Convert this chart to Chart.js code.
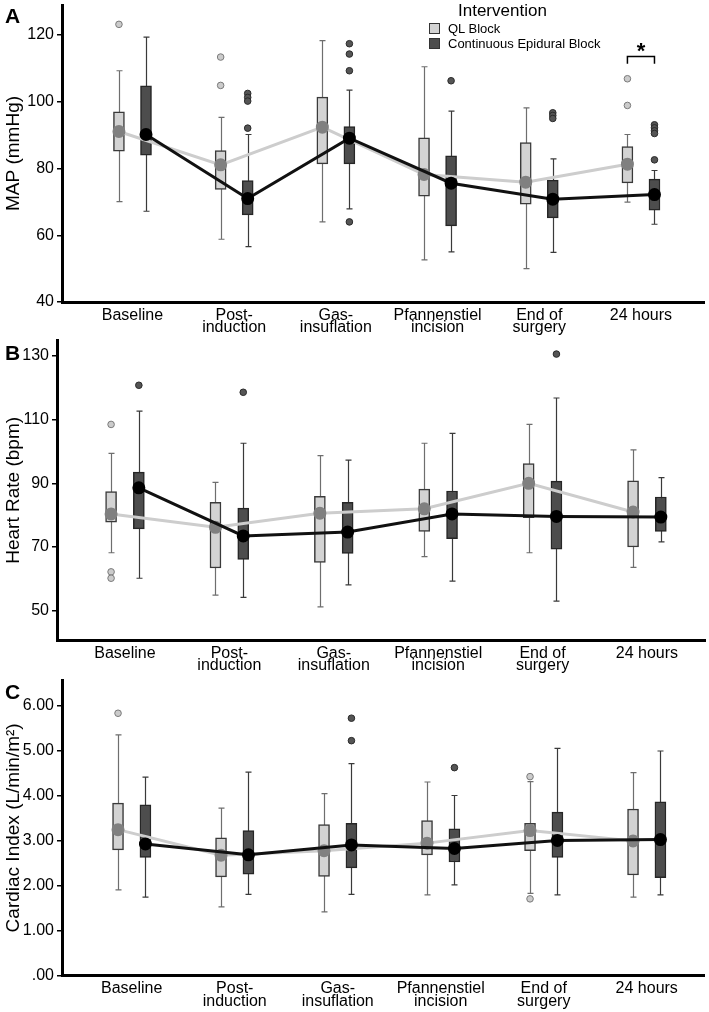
<!DOCTYPE html>
<html>
<head>
<meta charset="utf-8">
<script src="https://cdn.jsdelivr.net/npm/chart.js@4/dist/chart.umd.min.js"></script>
<style>
  body { margin: 0; background: #fff; font-family: "Liberation Sans", Arial, sans-serif; }
  #wrap { position: relative; width: 709px; height: 1012px; }
  canvas { position: absolute; left: 0; }
  .letter { position: absolute; left: 5px; font-weight: bold; font-size: 21px; line-height: 1; color: #000; }
  .legend { position: absolute; left: 429px; top: 1px; color: #000; }
  .legend .ttl { font-size: 17px; margin-left: 29px; line-height: 20px; }
  .legend .item { font-size: 13px; line-height: 15px; display: flex; align-items: center; }
  .legend .sw { width: 9px; height: 9px; border: 1px solid #333; margin-right: 8px; }
</style>
</head>
<body>
<div id="wrap">
  <canvas id="mapChart" width="709" height="340" style="top:0px"></canvas>
  <canvas id="hrChart" width="709" height="340" style="top:336px"></canvas>
  <canvas id="ciChart" width="709" height="338" style="top:674px"></canvas>
  <div class="letter" style="top:5px">A</div>
  <div class="letter" style="top:342px">B</div>
  <div class="letter" style="top:681px">C</div>
  <div class="legend">
    <div class="ttl">Intervention</div>
    <div class="item"><span class="sw" style="background:#d3d3d3"></span>QL Block</div>
    <div class="item"><span class="sw" style="background:#4d4d4d"></span>Continuous Epidural Block</div>
  </div>
</div>
<script>
// time points
const categories = ['Baseline', ['Post-', 'induction'], ['Gas-', 'insuflation'],
  ['Pfannenstiel', 'incision'], ['End of', 'surgery'], '24 hours'];

// box stats per time point: [whisker low, q1, q3, whisker high]
const mapTicks = [40, 60, 80, 100, 120];
const mapQlBox = [[70.1, 85.2, 97.0, 109.3], [58.8, 73.7, 85.4, 95.3], [64.0, 81.4, 101.4, 118.3],
  [52.6, 71.7, 89.2, 110.5], [50.0, 69.3, 87.8, 98.2], [69.9, 75.7, 86.6, 90.2]];
const mapQlMean = [91.1, 81.1, 92.4, 78.2, 75.9, 81.3];
const mapQlOut = [[123.2], [113.4, 104.9], [], [], [], [106.9, 98.9]];
const mapEpBox = [[67.2, 84.0, 104.8, 119.4], [56.6, 66.1, 76.4, 90.2], [67.9, 81.4, 92.6, 103.5],
  [55.0, 62.8, 83.8, 97.2], [54.9, 65.2, 76.5, 82.9], [63.3, 67.5, 76.8, 79.4]];
const mapEpMean = [90.2, 71.0, 89.1, 75.6, 70.8, 72.2];
const mapEpOut = [[], [102.5, 101.3, 100.2, 92.1], [117.4, 114.3, 109.3, 64.0], [106.3],
  [96.7, 95.9, 95.0], [93.1, 92.2, 91.3, 90.5, 82.6]];

const hrTicks = [50, 70, 90, 110, 130];
const hrQlBox = [[68.2, 77.8, 87.4, 99.4], [54.9, 63.4, 84.0, 90.3], [51.2, 65.2, 85.9, 98.7],
  [67.0, 74.9, 88.2, 102.6], [68.2, 79.2, 96.2, 108.5], [63.6, 70.0, 90.8, 100.5]];
const hrQlMean = [80.4, 76.2, 80.6, 82.0, 90.0, 81.0];
const hrQlOut = [[108.5, 62.2, 60.2], [], [], [], [], []];
const hrEpBox = [[60.2, 75.7, 93.5, 112.7], [54.2, 66.1, 82.2, 102.6], [58.1, 68.0, 84.0, 97.3],
  [59.3, 72.6, 87.6, 105.7], [53.0, 69.3, 90.7, 116.8], [71.6, 74.9, 85.7, 91.8]];
const hrEpMean = [88.6, 73.5, 74.7, 80.4, 79.6, 79.4];
const hrEpOut = [[120.8], [118.6], [], [], [130.6], []];

const ciTicks = [0, 1, 2, 3, 4, 5, 6];
const ciQlBox = [[1.91, 2.80, 3.84, 5.36], [1.53, 2.20, 3.07, 3.73], [1.42, 2.21, 3.36, 4.05],
  [1.80, 2.69, 3.45, 4.31], [1.83, 2.78, 3.39, 4.32], [1.75, 2.24, 3.71, 4.52]];
const ciQlMean = [3.25, 2.68, 2.78, 2.95, 3.23, 3.00];
const ciQlOut = [[5.84], [], [], [], [4.43, 1.71], []];
const ciEpBox = [[1.75, 2.63, 3.80, 4.42], [1.81, 2.26, 3.23, 4.53], [1.81, 2.40, 3.39, 4.72],
  [2.02, 2.53, 3.27, 4.01], [1.80, 2.63, 3.64, 5.06], [1.80, 2.18, 3.87, 5.00]];
const ciEpMean = [2.93, 2.69, 2.91, 2.83, 3.01, 3.03];
const ciEpOut = [[], [], [5.73, 5.23], [4.63], [], []];

Chart.defaults.font.family = '"Liberation Sans", Arial, sans-serif';
Chart.defaults.color = '#000';

const SHIFT = 0.133;

// whiskers drawn behind the boxes, from the box datasets' stats
const whiskerPlugin = {
  id: 'whiskers',
  beforeDatasetsDraw(chart) {
    const { ctx, scales: { x, y } } = chart;
    chart.data.datasets.forEach(ds => {
      if (!ds.stats) return;
      ctx.save();
      ctx.strokeStyle = ds.whiskerColor;
      ctx.lineWidth = 1.2;
      ds.stats.forEach((b, i) => {
        const px = Math.round(x.getPixelForValue(ds.data[i].x)) + 0.5;
        const lo = y.getPixelForValue(b[0]);
        const hi = y.getPixelForValue(b[3]);
        ctx.beginPath();
        ctx.moveTo(px, lo); ctx.lineTo(px, hi);
        ctx.moveTo(px - 3, lo); ctx.lineTo(px + 3, lo);
        ctx.moveTo(px - 3, hi); ctx.lineTo(px + 3, hi);
        ctx.stroke();
      });
      ctx.restore();
    });
  }
};

// significance bracket
const sigPlugin = {
  id: 'sig',
  afterDatasetsDraw(chart, args, opts) {
    if (!opts || !opts.at) return;
    const { ctx, scales: { x, y } } = chart;
    const x1 = x.getPixelForValue(opts.at - SHIFT);
    const x2 = x.getPixelForValue(opts.at + SHIFT);
    const top = y.getPixelForValue(opts.level);
    const bot = y.getPixelForValue(opts.level - opts.drop);
    ctx.save();
    ctx.strokeStyle = '#000';
    ctx.lineWidth = 1.5;
    ctx.beginPath();
    ctx.moveTo(x1, bot); ctx.lineTo(x1, top); ctx.lineTo(x2, top); ctx.lineTo(x2, bot);
    ctx.stroke();
    ctx.fillStyle = '#000';
    ctx.font = 'bold 22px "Liberation Sans", Arial, sans-serif';
    ctx.textAlign = 'center';
    ctx.textBaseline = 'alphabetic';
    ctx.fillText('*', (x1 + x2) / 2, top + 2);
    ctx.restore();
  }
};

function boxSet(label, box, shift, fill, edge, whisker) {
  return {
    type: 'bar', label,
    data: box.map((b, i) => ({ x: i + 1 + shift, y: [b[1], b[2]] })),
    stats: box, whiskerColor: whisker,
    backgroundColor: fill, borderColor: edge, borderWidth: 1.5, borderSkipped: false,
    barThickness: 11, grouped: false, order: 3
  };
}

function meanSet(mean, shift, lineColor, dotColor, order) {
  return {
    type: 'line',
    data: mean.map((m, i) => ({ x: i + 1 + shift, y: m })),
    borderColor: lineColor, borderWidth: 3, tension: 0,
    pointRadius: 5, pointBackgroundColor: dotColor, pointBorderColor: dotColor,
    order
  };
}

function outSet(out, shift, fill, edge) {
  const pts = [];
  out.forEach((arr, i) => arr.forEach(v => pts.push({ x: i + 1 + shift, y: v })));
  return {
    type: 'line', showLine: false, data: pts,
    pointRadius: 3.3, pointBackgroundColor: fill, pointBorderColor: edge, pointBorderWidth: 1,
    order: 2
  };
}

function makePanel(id, p) {
  new Chart(document.getElementById(id), {
    type: 'bar',
    data: {
      datasets: [
        boxSet('QL Block', p.qlBox, -SHIFT, '#d3d3d3', '#3a3a3a', '#6e6e6e'),
        boxSet('Continuous Epidural Block', p.epBox, SHIFT, '#4d4d4d', '#262626', '#3a3a3a'),
        outSet(p.qlOut, -SHIFT, '#cbcbcb', '#7a7a7a'),
        outSet(p.epOut, SHIFT, '#555555', '#2a2a2a'),
        meanSet(p.qlMean, -SHIFT, '#cdcdcd', '#808080', 1),
        meanSet(p.epMean, SHIFT, '#111111', '#000000', 0)
      ]
    },
    options: {
      responsive: false,
      animation: false,
      events: [],
      layout: { autoPadding: false, padding: { top: p.padTop, right: p.padRight, left: 0, bottom: 0 } },
      plugins: { legend: { display: false }, tooltip: { enabled: false }, sig: p.sig || {} },
      scales: {
        x: {
          type: 'linear', min: p.xMin, max: p.xMax, offset: false,
          afterBuildTicks: s => { s.ticks = categories.map((c, i) => ({ value: i + 1 })); },
          afterFit: s => { s.height = p.xAxisH; },
          ticks: {
            autoSkip: false, maxRotation: 0, padding: 7, color: '#000',
            font: { size: 16, lineHeight: 0.78 },
            callback: v => categories[v - 1]
          },
          grid: { display: true, drawOnChartArea: false, drawTicks: false },
          border: { display: true, width: 3, color: '#000' }
        },
        y: {
          min: p.yMin, max: p.yMax,
          afterBuildTicks: s => { s.ticks = p.ticks.map(v => ({ value: v })); },
          afterFit: s => { s.width = p.yW; s.paddingTop = 0; s.paddingBottom = 0; },
          ticks: { padding: 3, color: '#000', font: { size: 16 }, callback: p.fmt },
          grid: { display: true, drawOnChartArea: false, drawTicks: true, tickLength: 5, color: '#000', lineWidth: 1.5 },
          border: { display: true, width: 3, color: '#000' },
          title: { display: true, text: p.title, color: '#000', font: { size: 19 }, padding: { top: 2, bottom: 0 } }
        }
      }
    },
    plugins: [whiskerPlugin, sigPlugin]
  });
}

makePanel('mapChart', {
  qlBox: mapQlBox, qlMean: mapQlMean, qlOut: mapQlOut,
  epBox: mapEpBox, epMean: mapEpMean, epOut: mapEpOut,
  ticks: mapTicks, yMin: 40, yMax: 129, fmt: v => String(v), title: 'MAP (mmHg)',
  xMin: 0.307, xMax: 6.62, yW: 62, padTop: 5, padRight: 5, xAxisH: 38,
  sig: { at: 6, level: 113.6, drop: 2.2 }
});

makePanel('hrChart', {
  qlBox: hrQlBox, qlMean: hrQlMean, qlOut: hrQlOut,
  epBox: hrEpBox, epMean: hrEpMean, epOut: hrEpOut,
  ticks: hrTicks, yMin: 40.8, yMax: 134.8, fmt: v => String(v), title: 'Heart Rate (bpm)',
  xMin: 0.349, xMax: 6.556, yW: 57, padTop: 4.7, padRight: 4, xAxisH: 36
});

makePanel('ciChart', {
  qlBox: ciQlBox, qlMean: ciQlMean, qlOut: ciQlOut,
  epBox: ciEpBox, epMean: ciEpMean, epOut: ciEpOut,
  ticks: ciTicks, yMin: 0, yMax: 6.58, fmt: v => v.toFixed(2).replace(/^0/, ''),
  title: 'Cardiac Index (L/min/m²)',
  xMin: 0.323, xMax: 6.556, yW: 62, padTop: 6, padRight: 5, xAxisH: 36.3
});
</script>
</body>
</html>
